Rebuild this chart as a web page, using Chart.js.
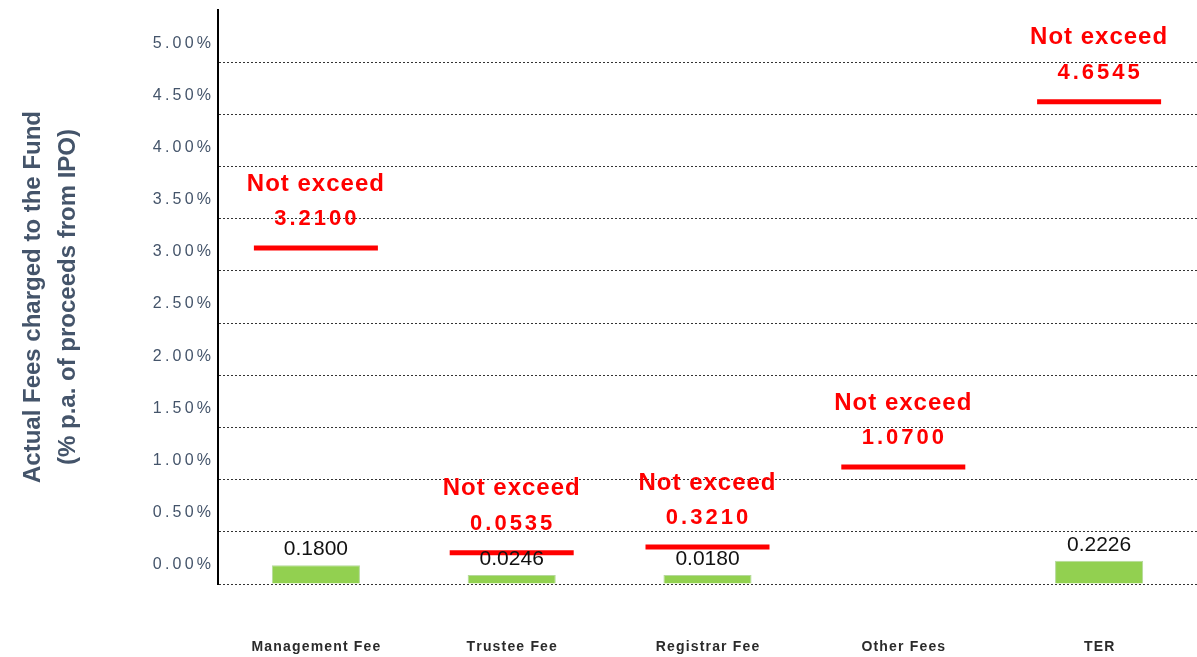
<!doctype html>
<html lang="en">
  <head>
    <meta charset="utf-8">
    <title>Actual Fees charged to the Fund</title>
    <script src="https://cdn.jsdelivr.net/npm/chart.js@4.4.0/dist/chart.umd.min.js"></script>
    <style>
      html, body { margin: 0; padding: 0; background: #fff; }
      #wrap { width: 1197px; height: 657px; }
    </style>
  </head>
  <body>
    <div id="wrap"><canvas id="myChart"></canvas></div>

    <script>
      // data
      var categories = ["Management Fee", "Trustee Fee", "Registrar Fee", "Other Fees", "TER"];
      var actualFees = [0.18, 0.0246, 0.018, null, 0.2226];
      var capLevels = [3.22, 0.30, 0.355, 1.12, 4.62];   // where the red limit marks sit
      var capText = ["3.2100", "0.0535", "0.3210", "1.0700", "4.6545"];
      var yTicks = [0, 0.5, 1, 1.5, 2, 2.5, 3, 3.5, 4, 4.5, 5];

      var slate = "#44546A";

      // text above bars and limit marks
      var labelsPlugin = {
        id: "feeLabels",
        afterDatasetsDraw: function(chart) {
          var ctx = chart.ctx;
          var bars = chart.getDatasetMeta(0).data;
          var caps = chart.getDatasetMeta(1).data;
          ctx.save();
          ctx.textAlign = "center";
          ctx.textBaseline = "middle";

          // black value labels over the green bars
          ctx.fillStyle = "#111";
          ctx.font = "21px 'Liberation Sans', Arial, sans-serif";
          bars.forEach(function(b, i) {
            if (actualFees[i] == null) return;
            ctx.fillText(actualFees[i].toFixed(4), b.x, b.y - 16);
          });

          // red "Not exceed" labels
          caps.forEach(function(p, i) {
            ctx.fillStyle = "#FF0000";
            ctx.font = "bold 24px 'Liberation Sans', Arial, sans-serif";
            ctx.letterSpacing = "1px";
            ctx.fillText("Not exceed", p.x, p.y - 64);
            ctx.font = "bold 22px 'Liberation Sans', Arial, sans-serif";
            ctx.letterSpacing = "3px";
            ctx.fillText(capText[i], p.x + 1, p.y - 29);
          });
          ctx.restore();
        }
      };

      function spaced(s, gap) {
        return s.split("").join(gap);
      }

      function showChart() {
        var ctx = document.getElementById("myChart").getContext("2d");
        var mychart = new Chart(ctx, {
          type: "bar",
          data: {
            labels: categories.map(function(c) { return spaced(c, "\u200A"); }),
            datasets: [
              {
                label: "Actual fee",
                data: actualFees,
                backgroundColor: "#92D050",
                borderColor: "#B5D99C",
                borderWidth: 1,
                minBarLength: 9,
                barPercentage: 0.9,
                categoryPercentage: 0.5,
                order: 2
              },
              {
                type: "line",
                label: "Not exceed",
                data: capLevels,
                showLine: false,
                pointStyle: "line",
                pointRadius: 62,
                pointHoverRadius: 62,
                pointBorderWidth: 5,
                pointHoverBorderWidth: 5,
                borderColor: "#FF0000",
                backgroundColor: "#FF0000",
                clip: false,
                order: 1
              }
            ]
          },
          options: {
            responsive: false,
            animation: false,
            devicePixelRatio: 1,
            layout: { autoPadding: false, padding: { top: 10, right: 0, left: 0, bottom: 0 } },
            plugins: {
              legend: { display: false },
              tooltip: { enabled: false }
            },
            scales: {
              x: {
                grid: { display: false, drawTicks: false },
                border: { display: false },
                ticks: {
                  padding: 55,
                  color: "#2b2b2b",
                  font: { family: "'Liberation Sans Narrow', 'Liberation Sans', Arial", size: 14, weight: "bold" }
                },
                afterFit: function(scale) { scale.height = 73; }
              },
              y: {
                min: 0,
                max: 5.5,
                afterBuildTicks: function(scale) {
                  scale.ticks = yTicks.concat([5.5]).map(function(v) { return { value: v }; });
                },
                grid: {
                  drawTicks: false,
                  color: "#333",
                  lineWidth: 1
                },
                border: { display: true, color: "#000", width: 2, dash: [2, 2] },
                ticks: {
                  padding: 7,
                  labelOffset: -19,
                  color: slate,
                  font: { family: "'Liberation Sans', Arial, sans-serif", size: 16 },
                  callback: function(v) { return v === 5.5 ? null : spaced(v.toFixed(2) + "%", "\u2009"); }
                },
                title: {
                  display: true,
                  text: ["Actual Fees charged to the Fund", "(% p.a. of proceeds from IPO)"],
                  color: slate,
                  font: { family: "'Liberation Sans', Arial, sans-serif", size: 24, weight: "bold", lineHeight: 1.45 },
                  padding: { top: 16, bottom: 0 }
                },
                afterFit: function(scale) {
                  scale.width = 218;
                  scale.paddingTop = 0;
                  scale.paddingBottom = 0;
                }
              }
            }
          },
          plugins: [labelsPlugin]
        });
      }

      document.getElementById("myChart").width = 1197;
      document.getElementById("myChart").height = 657;
      showChart();
    </script>
  </body>
</html>
